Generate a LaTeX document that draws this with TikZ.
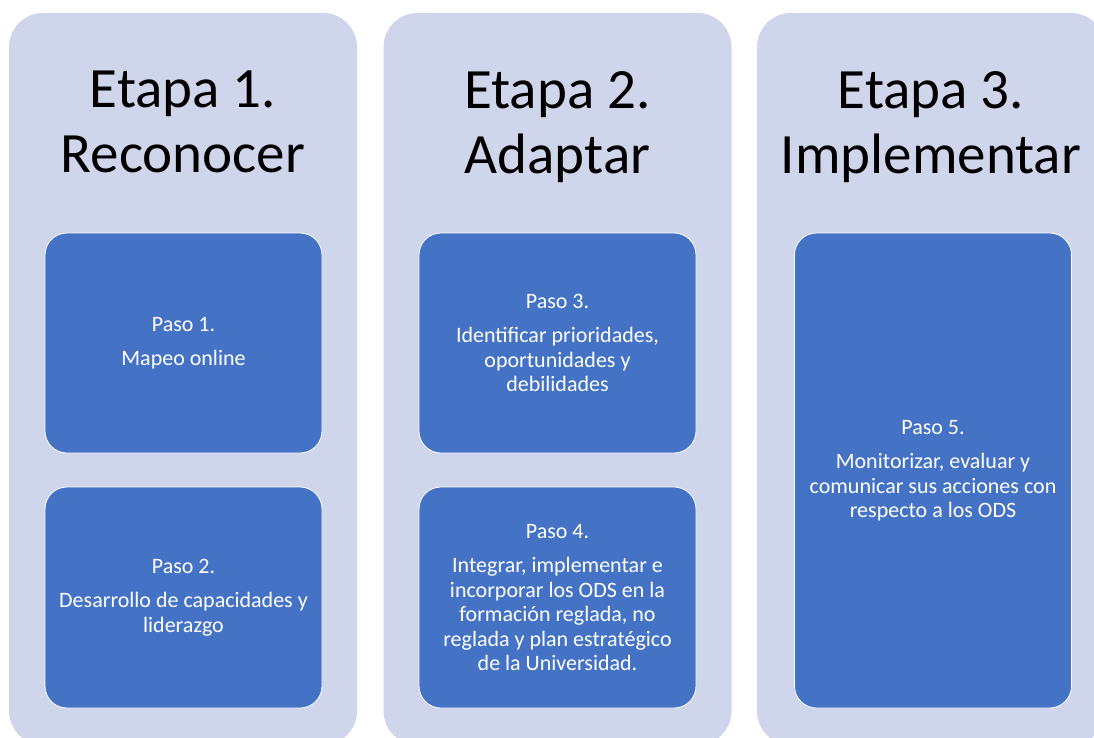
\documentclass[tikz,border=0pt]{standalone}
\usepackage{fontspec}
\setmainfont{Carlito}
\usepackage{color}
\usetikzlibrary{positioning}
\definecolor{stageback}{HTML}{CFD5EA}
\definecolor{stepblue}{HTML}{4472C4}

\begin{document}
\begin{tikzpicture}[x=1pt,y=-1pt,
    stagebox/.style={fill=stageback, rounded corners=34pt, minimum width=348pt, minimum height=732pt, inner sep=0pt},
    stagetitle/.style={anchor=north, align=center, inner sep=0pt, font=\fontsize{57}{65}\selectfont},
    stepbox/.style={fill=stepblue, draw=white, line width=0.8pt, rounded corners=22pt, minimum width=277pt, inner sep=0pt, align=center, text=white, font=\fontsize{22}{24.5}\selectfont}]
    \useasboundingbox (0,0) rectangle (1094,738);
    \clip (0,0) rectangle (1094,738);
    \foreach \i/\cx/\nombre in {1/183/Reconocer,2/557.5/Adaptar,3/931/Implementar}
    {
        \node[stagebox] at (\cx, 379)(stage\i) {};
        \node[stagetitle] at (\cx, 71)(title\i) {Etapa \i.\\\nombre};
    }
    \node[stepbox, minimum height=220pt] at (183.5, 343)(paso1) {Paso 1.\\[10pt]Mapeo online};
    \node[stepbox, minimum height=221pt] at (183.5, 597.5)(paso2) {Paso 2.\\[10pt]Desarrollo de capacidades y\\liderazgo};
    \node[stepbox, minimum height=220pt] at (557.5, 343)(paso3) {Paso 3.\\[10pt]Identificar prioridades,\\oportunidades y\\debilidades};
    \node[stepbox, minimum height=221pt] at (557.5, 597.5)(paso4) {Paso 4.\\[10pt]Integrar, implementar e\\incorporar los ODS en la\\formación reglada, no\\reglada y plan estratégico\\de la Universidad.};
    \node[stepbox, minimum height=475pt] at (933, 470.5)(paso5) {Paso 5.\\[10pt]Monitorizar, evaluar y\\comunicar sus acciones con\\respecto a los ODS};
\end{tikzpicture}
\end{document}
